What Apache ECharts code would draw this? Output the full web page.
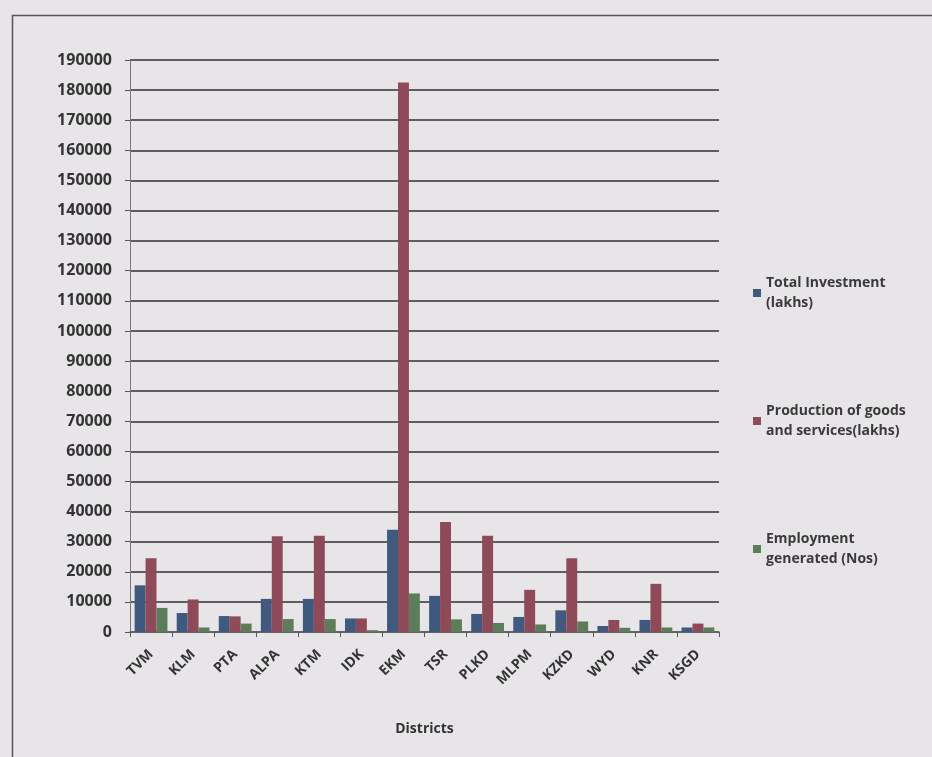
<!DOCTYPE html>
<html>
<head>
<meta charset="utf-8">
<script src="https://cdn.jsdelivr.net/npm/echarts@6/dist/echarts.min.js"></script>
<style>
html,body{margin:0;padding:0;background:#e7e5e8;}
#c{width:932px;height:757px;}
</style>
</head>
<body>
<div id="c"></div>
<script>
const districts = ['TVM','KLM','PTA','ALPA','KTM','IDK','EKM','TSR','PLKD','MLPM','KZKD','WYD','KNR','KSGD'];
const totalInvestment = [15500, 6300, 5300, 11000, 11000, 4500, 34000, 12000, 6000, 5000, 7200, 2000, 4000, 1500];
const production = [24500, 10800, 5200, 31800, 32000, 4500, 182500, 36500, 32000, 14000, 24500, 4000, 16000, 2800];
const employment = [8000, 1500, 2800, 4300, 4300, 600, 12800, 4200, 3000, 2500, 3500, 1400, 1500, 1500];
const seriesNames = ['Total Investment\n(lakhs)', 'Production of goods\nand services(lakhs)', 'Employment\ngenerated (Nos)'];
const yTicks = {min: 0, max: 190000, interval: 10000};

const chart = echarts.init(document.getElementById('c'), null, {renderer: 'canvas'});
const font = '"Open Sans", "DejaVu Sans", sans-serif';
chart.setOption({
  backgroundColor: '#e7e5e8',
  animation: false,
  graphic: [{
    type: 'rect', left: 10, top: 13, shape: {width: 940, height: 760},
    style: {fill: 'none', stroke: '#555', lineWidth: 1.5}, z: -1
  }],
  grid: {left: 130, right: 213, top: 60, bottom: 125},
  legend: {
    orient: 'vertical', left: 748, top: 268, itemGap: 88,
    itemWidth: 8, itemHeight: 8, icon: 'rect',
    textStyle: {fontFamily: font, fontWeight: 'bold', fontSize: 14, color: '#3a3a3a', lineHeight: 20}
  },
  xAxis: {
    type: 'category', data: districts,
    name: 'Districts', nameLocation: 'middle', nameGap: 90,
    nameTextStyle: {fontFamily: font, fontWeight: 'bold', fontSize: 14, color: '#333'},
    axisLine: {lineStyle: {color: '#666', width: 1.5}},
    axisTick: {show: true, alignWithLabel: false, length: 5, lineStyle: {color: '#555'}},
    axisLabel: {rotate: 45, interval: 0, fontFamily: font, fontWeight: 'bold', fontSize: 14, color: '#333', margin: 20}
  },
  yAxis: {
    type: 'value', min: yTicks.min, max: yTicks.max, interval: yTicks.interval,
    axisLine: {show: true, lineStyle: {color: '#777', width: 1}},
    axisTick: {show: true, length: 5, lineStyle: {color: '#555'}},
    axisLabel: {fontFamily: font, fontWeight: 'bold', fontSize: 16, color: '#333', margin: 18,
                formatter: v => String(v)},
    splitLine: {lineStyle: {color: '#5e5e60', width: 2}}
  },
  series: [
    {name: seriesNames[0], type: 'bar', data: totalInvestment, barGap: '0%', barCategoryGap: '22%',
     itemStyle: {color: '#40597f'}},
    {name: seriesNames[1], type: 'bar', data: production,
     itemStyle: {color: '#8e4a58'}},
    {name: seriesNames[2], type: 'bar', data: employment,
     itemStyle: {color: '#5d7d5a'}}
  ]
});
</script>
</body>
</html>
